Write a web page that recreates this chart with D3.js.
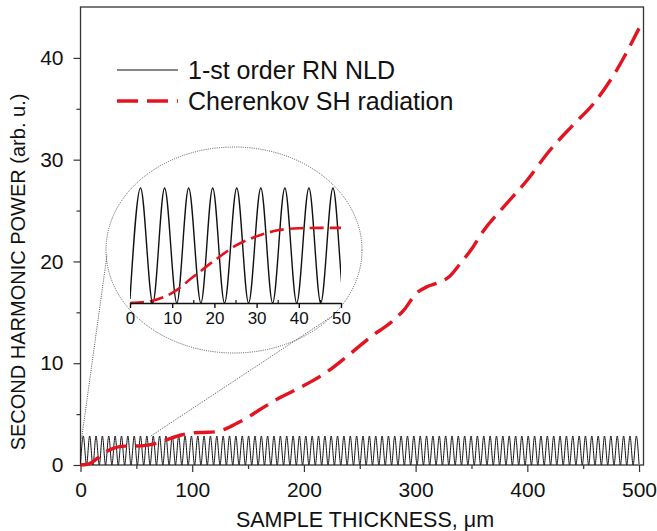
<!DOCTYPE html>
<html><head><meta charset="utf-8">
<script src="https://cdn.jsdelivr.net/npm/d3@7"></script>
<style>
body{margin:0;background:#fff}
svg{display:block}
text{font-family:"Liberation Sans",Arial,Helvetica,sans-serif;fill:#111}
</style>
</head><body>
<svg id="c" width="657" height="531"></svg>
<script>
// ---------------- data ----------------
const xTicks = [0, 100, 200, 300, 400, 500];
const xMinorTicks = [50, 150, 250, 350, 450];
const yTicks = [0, 10, 20, 30, 40];
const yMinorTicks = [5, 15, 25, 35];
const insetTicks = [0, 10, 20, 30, 40, 50];
const insetMinorTicks = [5, 15, 25, 35, 45];

// 1-st order RN NLD: positions of maxima and minima
const nldPeakX = [2.5,8.2,13.9,19.6,25.3,31.0,36.7,42.4,48.1,53.7,59.4,65.1,70.8,76.5,82.2,87.9,93.6,99.3,
  105.0,110.6,116.3,122.0,127.7,133.4,139.1,144.8,150.5,156.2,161.9,167.5,173.2,178.9,184.6,190.3,196.0,
  201.7,207.4,213.1,218.8,224.4,230.1,235.8,241.5,247.2,252.9,258.6,264.3,270.0,275.7,281.3,287.0,292.7,
  298.4,304.1,309.8,315.5,321.2,326.9,332.6,338.2,343.9,349.6,355.3,361.0,366.7,372.4,378.1,383.8,389.5,
  395.1,400.8,406.5,412.2,417.9,423.6,429.3,435.0,440.7,446.4,452.0,457.7,463.4,469.1,474.8,480.5,486.2,
  491.9,497.6];
const nldValleyX = [5.4,11.1,16.8,22.4,28.1,33.8,39.5,45.2,50.9,56.6,62.3,68.0,73.7,79.3,85.0,90.7,96.4,
  102.1,107.8,113.5,119.2,124.9,130.6,136.3,141.9,147.6,153.3,159.0,164.7,170.4,176.1,181.8,187.5,193.2,
  198.8,204.5,210.2,215.9,221.6,227.3,233.0,238.7,244.4,250.1,255.7,261.4,267.1,272.8,278.5,284.2,289.9,
  295.6,301.3,307.0,312.6,318.3,324.0,329.7,335.4,341.1,346.8,352.5,358.2,363.9,369.5,375.2,380.9,386.6,
  392.3,398.0,403.7,409.4,415.1,420.8,426.4,432.1,437.8,443.5,449.2,454.9,460.6,466.3,472.0,477.6,483.3,
  489.0,494.7];
const nldPeakY = 2.85;
const nldValleyY = 0;
const nldEndX = [0, 500];
const nldEndY = [0.1, 0.1];

// Cherenkov SH radiation
const shX = [0,5,10,15,20,25,30,35,40,45,50,60,70,80,90,100,110,120,130,140,150,160,180,200,220,240,260,280,290,300,310,320,330,340,350,360,380,400,420,440,460,480,500];
const shY = [0,0.05,0.25,0.65,1.05,1.42,1.65,1.8,1.85,1.86,1.86,1.95,2.2,2.6,2.95,3.15,3.2,3.25,3.55,4.1,4.7,5.4,6.7,7.8,9.1,10.8,12.6,14.2,15.3,16.8,17.5,17.9,18.5,19.8,21.2,22.9,25.5,28.0,30.9,33.3,35.6,38.8,42.9];

const legendLabels = ["1-st order RN NLD", "Cherenkov SH radiation"];

// ---------------- build series ----------------
const nld = [];
nldPeakX.forEach(x => nld.push([x, nldPeakY]));
nldValleyX.forEach(x => nld.push([x, nldValleyY]));
nldEndX.forEach((x, i) => nld.push([x, nldEndY[i]]));
nld.sort((a, b) => a[0] - b[0]);
const sh = shX.map((x, i) => [x, shY[i]]);

// ---------------- layout ----------------
const svg = d3.select("#c");
const L = 80.5, R = 643.5, T = 7, B = 465;
const x = d3.scaleLinear().domain([0, 504]).range([L, R]);
const y = d3.scaleLinear().domain([0, 45]).range([B, T]);
const RED = "#e3141f";
const AX = "#333";

// frame
svg.append("rect").attr("x", L).attr("y", T).attr("width", R - L).attr("height", B - T)
  .attr("fill", "none").attr("stroke", AX).attr("stroke-width", 1.3);

function styleAxis(g, fs) {
  g.select(".domain").remove();
  g.selectAll("line").attr("stroke", AX).attr("stroke-width", 1.2);
  g.selectAll("text").style("font-size", fs + "px").attr("fill", "#111")
    .style("font-family", '"Liberation Sans", Arial, sans-serif');
}

const gx = svg.append("g").attr("transform", `translate(0,${B})`)
  .call(d3.axisBottom(x).tickValues(xTicks).tickSize(7).tickPadding(10).tickSizeOuter(0));
styleAxis(gx, 21);
const gxm = svg.append("g").attr("transform", `translate(0,${B})`)
  .call(d3.axisBottom(x).tickValues(xMinorTicks).tickSize(4).tickFormat("").tickSizeOuter(0));
styleAxis(gxm, 21);

const gy = svg.append("g").attr("transform", `translate(${L},0)`)
  .call(d3.axisLeft(y).tickValues(yTicks).tickSize(7).tickPadding(10).tickSizeOuter(0));
styleAxis(gy, 21);
const gym = svg.append("g").attr("transform", `translate(${L},0)`)
  .call(d3.axisLeft(y).tickValues(yMinorTicks).tickSize(4).tickFormat("").tickSizeOuter(0));
styleAxis(gym, 21);

// axis titles
svg.append("text").attr("transform", "translate(25,272) rotate(-90)")
  .attr("text-anchor", "middle").style("font-size", "20px").text("SECOND HARMONIC POWER (arb. u.)");
svg.append("text").attr("x", 365).attr("y", 527)
  .attr("text-anchor", "middle").style("font-size", "21.5px").text("SAMPLE THICKNESS, \u03bcm");

// main curves
const line = d3.line().x(d => x(d[0])).y(d => y(d[1])).curve(d3.curveMonotoneX);
svg.append("path").datum(nld).attr("d", line)
  .attr("fill", "none").attr("stroke", "#111").attr("stroke-width", 1);
svg.append("path").datum(sh).attr("d", line)
  .attr("fill", "none").attr("stroke", RED).attr("stroke-width", 3.4)
  .attr("stroke-dasharray", "21,9");

// ---------------- inset ----------------
const E = {cx: 234, cy: 250, rx: 128, ry: 103};
const ix = d3.scaleLinear().domain([0, 50]).range([130, 341]);
const iy = d3.scaleLinear().domain([0, 3]).range([303, 181.9]);

// connector lines (zoom from main plot region to inset)
const c1a = [x(1), y(2.6)], c1b = [E.cx - E.rx + 1, E.cy + 5];
const ang = 40 * Math.PI / 180;
const c2a = [x(63), y(2.85)], c2b = [E.cx + E.rx * Math.cos(ang), E.cy + E.ry * Math.sin(ang)];
[[c1a, c1b], [c2a, c2b]].forEach(([a, b]) => {
  svg.append("line").attr("x1", a[0]).attr("y1", a[1]).attr("x2", b[0]).attr("y2", b[1])
    .attr("stroke", "#555").attr("stroke-width", 1).attr("stroke-dasharray", "1,1.2");
});

svg.append("ellipse").attr("cx", E.cx).attr("cy", E.cy).attr("rx", E.rx).attr("ry", E.ry)
  .attr("fill", "none").attr("stroke", "#555").attr("stroke-width", 1).attr("stroke-dasharray", "1,1.2");

svg.append("clipPath").attr("id", "ic").append("rect")
  .attr("x", ix(0)).attr("y", 150).attr("width", ix(50) - ix(0)).attr("height", 170);

const iline = d3.line().x(d => ix(d[0])).y(d => iy(d[1])).curve(d3.curveMonotoneX);
const gi = svg.append("g").attr("clip-path", "url(#ic)");
gi.append("path").datum(nld.filter(d => d[0] <= 60)).attr("d", iline)
  .attr("fill", "none").attr("stroke", "#111").attr("stroke-width", 1.4);
gi.append("path").datum(sh.filter(d => d[0] <= 50)).attr("d", iline)
  .attr("fill", "none").attr("stroke", RED).attr("stroke-width", 2.6)
  .attr("stroke-dasharray", "14,6");

const gia = svg.append("g").attr("transform", `translate(0,${iy(0)})`)
  .call(d3.axisBottom(ix).tickValues(insetTicks).tickSize(5).tickPadding(4).tickSizeOuter(0));
gia.select(".domain").attr("stroke", "#111").attr("stroke-width", 1.4);
gia.selectAll("line").attr("stroke", "#111").attr("stroke-width", 1.4);
gia.selectAll("text").style("font-size", "17px").attr("fill", "#111");
const giam = svg.append("g").attr("transform", `translate(0,${iy(0)})`)
  .call(d3.axisTop(ix).tickValues(insetMinorTicks).tickSize(3).tickFormat("").tickSizeOuter(0));
giam.select(".domain").remove();
giam.selectAll("line").attr("stroke", "#111").attr("stroke-width", 1.2);

// ---------------- legend ----------------
const lg = svg.append("g");
lg.append("line").attr("x1", 117).attr("x2", 178).attr("y1", 70).attr("y2", 70)
  .attr("stroke", "#111").attr("stroke-width", 1.2);
lg.append("line").attr("x1", 117).attr("x2", 178).attr("y1", 101).attr("y2", 101)
  .attr("stroke", RED).attr("stroke-width", 3.4).attr("stroke-dasharray", "21,9");
lg.selectAll("text.lab").data(legendLabels).join("text").attr("class", "lab")
  .attr("x", 188).attr("y", (d, i) => 79 + i * 31)
  .style("font-size", "25px").text(d => d);
</script>
</body></html>
